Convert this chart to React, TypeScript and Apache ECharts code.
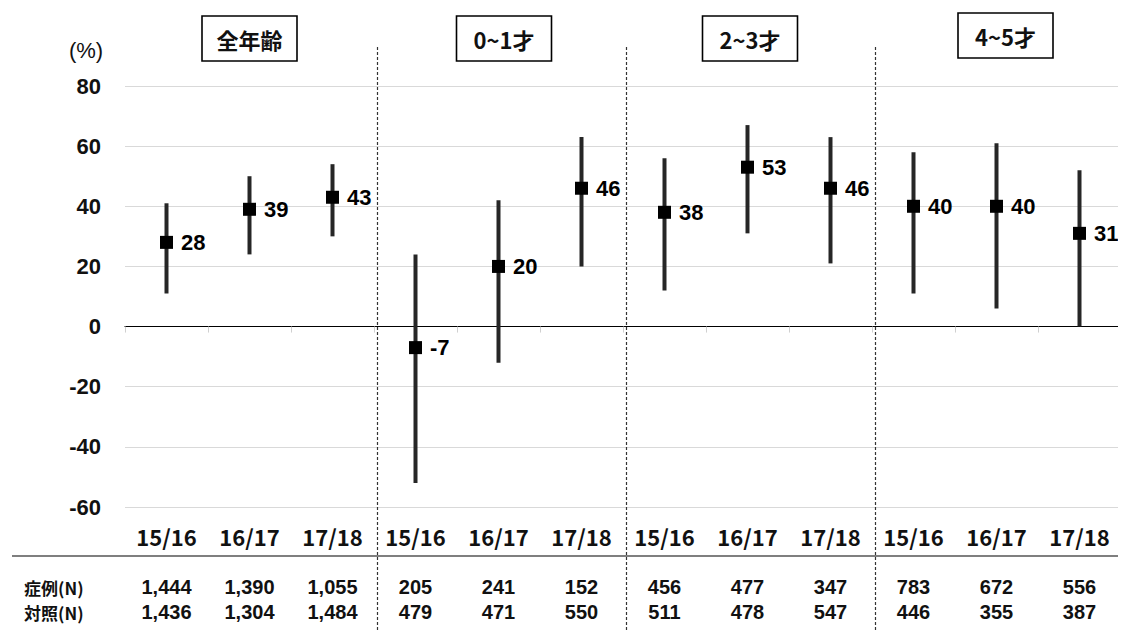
import { useEffect, useRef } from "react";
import * as echarts from "echarts";

// Seasons shown within each age group
const seasons = ["15/16", "16/17", "17/18"];
// Age groups (panel titles)
const groups = ["全年齢", "0~1才", "2~3才", "4~5才"];
// Point estimates (%)
const estimate = [28, 39, 43, -7, 20, 46, 38, 53, 46, 40, 40, 31];
// 95% CI lower / upper bounds (%)
const ciLow = [11, 24, 30, -52, -12, 20, 12, 31, 21, 11, 6, 0];
const ciHigh = [41, 50, 54, 24, 42, 63, 56, 67, 63, 58, 61, 52];
// Sample sizes per cell
const caseN = ["1,444", "1,390", "1,055", "205", "241", "152", "456", "477", "347", "783", "672", "556"];
const controlN = ["1,436", "1,304", "1,484", "479", "471", "550", "511", "478", "547", "446", "355", "387"];
const rowLabels = ["症例(N)", "対照(N)"];
// Y axis ticks
const yMin = -60;
const yMax = 80;
const yStep = 20;

const categories = groups.flatMap((g, gi) => seasons.map((s) => `${gi}|${s}`));

const LATIN = '"Liberation Sans", Arial, sans-serif';
const CJK = '"Noto Sans CJK JP", "Noto Sans", sans-serif';

export default function App() {
  const ref = useRef<HTMLDivElement>(null);

  useEffect(() => {
    if (!ref.current) return;
    const chart = echarts.init(ref.current, null, { renderer: "svg" });

    const option: any = {
      animation: false,
      backgroundColor: "#fff",
      grid: { left: 125, right: 5, top: 86, bottom: 131 },
      xAxis: [
        {
          type: "category",
          data: categories,
          boundaryGap: true,
          axisLine: { show: false, onZero: false },
          axisTick: { show: false },
          splitLine: { show: false },
          axisLabel: {
            margin: 18,
            interval: 0,
            formatter: (v: string) => v.split("|")[1],
            fontFamily: CJK,
            fontWeight: "bold",
            fontSize: 22,
            color: "#111",
          },
        },
        {
          type: "category",
          data: categories,
          boundaryGap: true,
          position: "bottom",
          axisLine: { show: true, onZero: true, lineStyle: { color: "#000", width: 1.2 } },
          axisTick: { show: true, length: 6, inside: false, lineStyle: { color: "#d0d0d0" } },
          axisLabel: { show: false },
          splitLine: { show: false },
        },
      ],
      yAxis: {
        type: "value",
        min: yMin,
        max: yMax,
        interval: yStep,
        axisLine: { show: false },
        axisTick: { show: false },
        splitLine: { lineStyle: { color: "#d9d9d9", width: 1 } },
        axisLabel: {
          margin: 24,
          fontFamily: LATIN,
          fontWeight: "bold",
          fontSize: 22,
          color: "#111",
        },
      },
      series: [
        {
          type: "custom",
          name: "CI",
          xAxisIndex: 0,
          data: estimate.map((_, i) => [i, ciLow[i], ciHigh[i]]),
          encode: { x: 0, y: [1, 2] },
          renderItem: (_params: any, api: any) => {
            const x = api.value(0);
            const lo = api.coord([x, api.value(1)]);
            const hi = api.coord([x, api.value(2)]);
            return {
              type: "line",
              shape: { x1: lo[0], y1: lo[1], x2: hi[0], y2: hi[1] },
              style: { stroke: "#262626", lineWidth: 4 },
            };
          },
          z: 2,
        },
        {
          type: "scatter",
          name: "estimate",
          xAxisIndex: 0,
          data: estimate.map((v, i) => [i, v]),
          symbol: "rect",
          symbolSize: 13,
          itemStyle: { color: "#000", opacity: 1 },
          label: {
            show: true,
            position: "right",
            distance: 8,
            formatter: (p: any) => String(p.value[1]),
            fontFamily: LATIN,
            fontWeight: "bold",
            fontSize: 22,
            color: "#000",
            opacity: 1,
          },
          z: 3,
        },
      ],
    };

    chart.setOption(option);

    // Decorations positioned from the category axis scale
    const px = (i: number) => chart.convertToPixel({ gridIndex: 0 }, [i, 0]) as number[];
    const centers = categories.map((_, i) => px(i)[0]);
    const half = (centers[1] - centers[0]) / 2;

    const graphics: any[] = [];

    // Unit label
    graphics.push({
      type: "text",
      style: {
        text: "(%)",
        x: 86,
        y: 50,
        align: "center",
        verticalAlign: "middle",
        font: `22px ${LATIN}`,
        fill: "#111",
      },
    });

    // Dashed group separators
    for (let g = 1; g < groups.length; g++) {
      const x = Math.round(centers[g * 3] - half) + 3.5;
      graphics.push({
        type: "line",
        shape: { x1: x, y1: 47, x2: x, y2: 638 },
        style: { stroke: "#333", lineWidth: 1.2, lineDash: [3, 2] },
        z: 5,
      });
    }

    // Panel title boxes
    const boxCenters = [249.5, 504, 750, 1005.5];
    const boxTops = [16, 16, 16, 13];
    groups.forEach((g, gi) => {
      graphics.push({
        type: "group",
        x: boxCenters[gi],
        y: boxTops[gi],
        children: [
          {
            type: "rect",
            shape: { x: -47.5, y: 0, width: 95, height: 45 },
            style: { fill: "#fff", stroke: "#000", lineWidth: 1.6 },
          },
          {
            type: "text",
            style: {
              text: g,
              x: 0,
              y: 23,
              align: "center",
              verticalAlign: "middle",
              font: `bold 22px ${CJK}`,
              fill: "#111",
            },
          },
        ],
      });
    });

    // Table rule
    graphics.push({
      type: "line",
      shape: { x1: 12, y1: 556, x2: 1126, y2: 556 },
      style: { stroke: "#000", lineWidth: 1.2 },
    });

    // Sample-size table
    const rowY = [587, 612];
    const rows = [caseN, controlN];
    rowLabels.forEach((lab, r) => {
      graphics.push({
        type: "text",
        style: {
          text: lab,
          x: 24,
          y: rowY[r],
          align: "left",
          verticalAlign: "middle",
          font: `bold 17px ${CJK}`,
          fill: "#111",
        },
      });
      rows[r].forEach((n, i) => {
        graphics.push({
          type: "text",
          style: {
            text: n,
            x: centers[i],
            y: rowY[r],
            align: "center",
            verticalAlign: "middle",
            font: `bold 20px ${LATIN}`,
            fill: "#111",
          },
        });
      });
    });

    chart.setOption({ graphic: graphics });

    return () => chart.dispose();
  }, []);

  return <div ref={ref} style={{ width: 1126, height: 638, margin: -8 }} />;
}
